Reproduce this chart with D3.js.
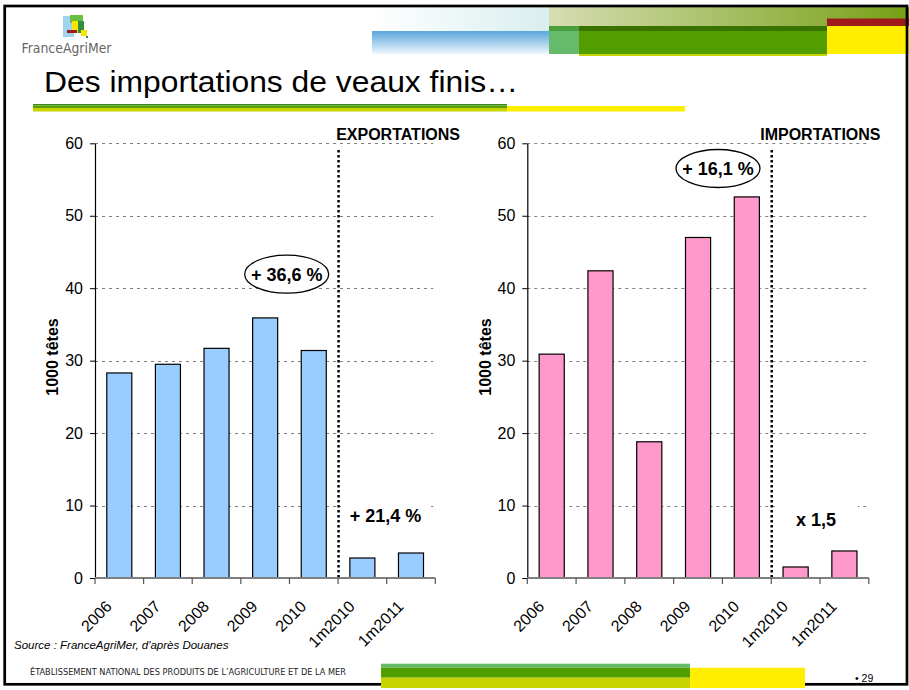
<!DOCTYPE html>
<html>
<head>
<meta charset="utf-8">
<script src="https://cdn.jsdelivr.net/npm/d3@7"></script>
<style>
  html, body { margin: 0; padding: 0; background: #fff; }
  svg { display: block; }
  text { font-family: Arial, "Liberation Sans", sans-serif; }
</style>
</head>
<body>
<svg id="chart" width="909" height="690"></svg>
<script>
// ---------- DATA ----------
const categories = ["2006", "2007", "2008", "2009", "2010", "1m2010", "1m2011"];
const exportValues = [28.3, 29.5, 31.7, 35.9, 31.4, 2.76, 3.45];
const importValues = [30.9, 42.4, 18.8, 47.0, 52.6, 1.52, 3.73];
const yTicks = [0, 10, 20, 30, 40, 50, 60];
const panelTitles = ["EXPORTATIONS", "IMPORTATIONS"];
const ellipseLabels = ["+ 36,6 %", "+ 16,1 %"];
const partialLabels = ["+ 21,4 %", "x 1,5"];
const yAxisTitle = "1000 têtes";
const slideTitle = "Des importations de veaux finis…";
const sourceText = "Source : FranceAgriMer, d'après Douanes";
const footerText = "ÉTABLISSEMENT NATIONAL DES PRODUITS DE L’AGRICULTURE ET DE LA MER";
const pageNumber = "• 29";

const svg = d3.select("#chart");
const defs = svg.append("defs");

// ---------- HEADER DECORATION ----------
const gFaint = defs.append("linearGradient").attr("id", "faint").attr("x1", 0).attr("x2", 1).attr("y1", 0).attr("y2", 0);
gFaint.append("stop").attr("offset", 0).attr("stop-color", "#ffffff");
gFaint.append("stop").attr("offset", 1).attr("stop-color", "#d9eeee");
const gBlue = defs.append("linearGradient").attr("id", "blue").attr("x1", 0).attr("x2", 0).attr("y1", 0).attr("y2", 1);
gBlue.append("stop").attr("offset", 0).attr("stop-color", "#5aa6dc");
gBlue.append("stop").attr("offset", 1).attr("stop-color", "#eef7fc");
const gOlive = defs.append("linearGradient").attr("id", "olive").attr("x1", 0).attr("x2", 1).attr("y1", 0).attr("y2", 0);
gOlive.append("stop").attr("offset", 0).attr("stop-color", "#d7ddb2");
gOlive.append("stop").attr("offset", 1).attr("stop-color", "#76a016");

const hdr = svg.append("g");
hdr.append("rect").attr("x", 372).attr("y", 7).attr("width", 177).attr("height", 24).attr("fill", "url(#faint)");
hdr.append("rect").attr("x", 372).attr("y", 31).attr("width", 177).attr("height", 23).attr("fill", "url(#blue)");
hdr.append("rect").attr("x", 549).attr("y", 7).attr("width", 360).attr("height", 19).attr("fill", "url(#olive)");
hdr.append("rect").attr("x", 827).attr("y", 18.5).attr("width", 82).attr("height", 7.5).attr("fill", "#9e1a1a");
hdr.append("rect").attr("x", 549).attr("y", 26).attr("width", 30).attr("height", 28).attr("fill", "#66bb6a");
hdr.append("rect").attr("x", 549).attr("y", 26).attr("width", 30).attr("height", 5).attr("fill", "#4a9e3e");
hdr.append("rect").attr("x", 579).attr("y", 26).attr("width", 248).attr("height", 5).attr("fill", "#3a7200");
hdr.append("rect").attr("x", 579).attr("y", 31).attr("width", 248).attr("height", 23).attr("fill", "#529e00");
hdr.append("rect").attr("x", 579).attr("y", 54).attr("width", 248).attr("height", 2).attr("fill", "#c8d400");
hdr.append("rect").attr("x", 827).attr("y", 26).attr("width", 82).attr("height", 28).attr("fill", "#ffee00");

// logo
const logo = svg.append("g");
logo.append("rect").attr("x", 63).attr("y", 16).attr("width", 11).attr("height", 21).attr("fill", "#9fd3ee");
logo.append("rect").attr("x", 70).attr("y", 15).attr("width", 13).attr("height", 8).attr("fill", "#6cbf3c");
logo.append("rect").attr("x", 77).attr("y", 21).attr("width", 7).attr("height", 12).attr("fill", "#2f8f3a");
logo.append("rect").attr("x", 72).attr("y", 21).attr("width", 6).attr("height", 12).attr("fill", "#ffe600");
logo.append("rect").attr("x", 67).attr("y", 30).attr("width", 10).attr("height", 3).attr("fill", "#9a1c1c");
logo.append("rect").attr("x", 81).attr("y", 30).attr("width", 6).attr("height", 6).attr("fill", "#f3e600");
logo.append("rect").attr("x", 86).attr("y", 36).attr("width", 2).attr("height", 2).attr("fill", "#2f8f3a");
logo.append("text").attr("x", 21.5).attr("y", 53).attr("font-size", 14.5)
  .attr("fill", "#666").attr("textLength", 90).attr("lengthAdjust", "spacingAndGlyphs")
  .style("font-family", "'Liberation Sans Narrow', 'DejaVu Sans Condensed', Arial, sans-serif")
  .text("FranceAgriMer");

// title
svg.append("text").attr("x", 44).attr("y", 92).attr("font-size", 30).attr("fill", "#000")
  .attr("textLength", 474).attr("lengthAdjust", "spacingAndGlyphs")
  .text(slideTitle);
svg.append("rect").attr("x", 33).attr("y", 104).attr("width", 474).attr("height", 1.5).attr("fill", "#3a8a1e");
svg.append("rect").attr("x", 33).attr("y", 105.5).attr("width", 474).attr("height", 2.5).attr("fill", "#5aa000");
svg.append("rect").attr("x", 33).attr("y", 108).attr("width", 474).attr("height", 3.5).attr("fill", "#c8d400");
svg.append("rect").attr("x", 507).attr("y", 106).attr("width", 178).attr("height", 5.5).attr("fill", "#ffee00");

// ---------- CHART PANELS ----------
const yTop = 143.3, yBottom = 578;
const y = d3.scaleLinear().domain([0, 60]).range([yBottom, yTop]);

const panels = [
  { x0: 95, x1: 435.3, values: exportValues, fill: "#99ccff", title: panelTitles[0], titleEnd: 460,
    ell: { cx: 286.7, cy: 274.2, label: ellipseLabels[0] },
    part: { cx: 385.5, base: 522.3, label: partialLabels[0], boxX: 341, boxW: 87 },
    yTitleX: 57.5 },
  { x0: 527.3, x1: 868.8, values: importValues, fill: "#ff99cc", title: panelTitles[1], titleEnd: 880.5,
    ell: { cx: 718, cy: 168.5, label: ellipseLabels[1] },
    part: { cx: 816, base: 525.7, label: partialLabels[1], boxX: 775, boxW: 83 },
    yTitleX: 491 }
];

panels.forEach(p => {
  const g = svg.append("g");
  const x = d3.scaleBand().domain(categories).range([p.x0, p.x1]).padding(0);
  const step = x.step();
  const barW = step * 0.515;

  // grid
  g.selectAll(".grid").data(yTicks.filter(t => t > 0)).enter().append("line")
    .attr("x1", p.x0).attr("x2", p.x1 - 2)
    .attr("y1", d => Math.round(y(d)) + 0.5).attr("y2", d => Math.round(y(d)) + 0.5)
    .attr("stroke", "#808080").attr("stroke-width", 1).attr("stroke-dasharray", "3,4");

  // panel title with white background
  const tt = g.append("text").attr("x", p.titleEnd).attr("y", 140).attr("text-anchor", "end")
    .attr("font-size", 16).attr("font-weight", "bold").text(p.title);
  const bb = tt.node().getBBox();
  g.insert("rect", "text").attr("x", bb.x - 2).attr("y", bb.y).attr("width", bb.width + 4).attr("height", bb.height)
    .attr("fill", "#fff");

  // partial-year annotation background (under separator)
  g.append("rect").attr("x", p.part.boxX).attr("y", p.part.base - 22).attr("width", p.part.boxW).attr("height", 30)
    .attr("fill", "#fff");

  // bars
  g.selectAll(".bar").data(p.values).enter().append("rect")
    .attr("x", (d, i) => x(categories[i]) + (step - barW) / 2)
    .attr("y", d => y(d))
    .attr("width", barW)
    .attr("height", d => yBottom - y(d))
    .attr("fill", p.fill).attr("stroke", "#000").attr("stroke-width", 1.2);

  // dotted separator
  const sepX = x(categories[5]) + 0.5;
  g.append("line").attr("x1", sepX).attr("x2", sepX).attr("y1", 150).attr("y2", yBottom)
    .attr("stroke", "#000").attr("stroke-width", 2.5).attr("stroke-dasharray", "2.5,2.5");

  // y axis
  const ya = g.append("g").attr("transform", `translate(${p.x0},0)`)
    .call(d3.axisLeft(y).tickValues(yTicks).tickSize(5).tickSizeOuter(0).tickPadding(7));
  ya.select(".domain").attr("stroke", "#000").attr("stroke-width", 1.2);
  ya.selectAll(".tick line").attr("stroke", "#000");
  ya.selectAll(".tick text").attr("font-size", 16).attr("fill", "#000")
    .style("font-family", "Arial, 'Liberation Sans', sans-serif");

  // x axis
  g.append("line").attr("x1", p.x0).attr("x2", p.x1).attr("y1", yBottom).attr("y2", yBottom)
    .attr("stroke", "#7f7f7f").attr("stroke-width", 2);
  const bounds = categories.map(c => x(c)).concat([p.x1]);
  g.selectAll(".xt").data(bounds).enter().append("line")
    .attr("x1", d => d).attr("x2", d => d).attr("y1", yBottom).attr("y2", yBottom + 6)
    .attr("stroke", "#555").attr("stroke-width", 1.2);
  g.selectAll(".xl").data(categories).enter().append("text")
    .attr("transform", d => `translate(${x(d) + step / 2 - 6.5},${yBottom + 29.5}) rotate(-45)`)
    .attr("text-anchor", "end").attr("font-size", 16).attr("fill", "#000")
    .text(d => d);

  // y title
  g.append("text").attr("transform", `translate(${p.yTitleX},357) rotate(-90)`)
    .attr("text-anchor", "middle").attr("font-size", 16).attr("font-weight", "bold")
    .text(yAxisTitle);

  // ellipse annotation
  g.append("ellipse").attr("cx", p.ell.cx).attr("cy", p.ell.cy).attr("rx", 42).attr("ry", 19)
    .attr("fill", "#fff").attr("stroke", "#000").attr("stroke-width", 1.3);
  g.append("text").attr("x", p.ell.cx).attr("y", p.ell.cy + 6.5).attr("text-anchor", "middle")
    .attr("font-size", 18).attr("font-weight", "bold").text(p.ell.label);

  g.append("text").attr("x", p.part.cx).attr("y", p.part.base).attr("text-anchor", "middle")
    .attr("font-size", 18).attr("font-weight", "bold").text(p.part.label);
});

// ---------- FOOTER ----------
svg.append("text").attr("x", 14).attr("y", 649).attr("font-size", 11.5).attr("font-style", "italic")
  .text(sourceText);
svg.append("text").attr("x", 30).attr("y", 675).attr("font-size", 8.5).attr("fill", "#222")
  .attr("textLength", 316).attr("lengthAdjust", "spacingAndGlyphs")
  .style("font-family", "'Liberation Sans Narrow', 'DejaVu Sans Condensed', Arial, sans-serif")
  .text(footerText);
svg.append("text").attr("x", 855).attr("y", 682).attr("font-size", 10.5).text(pageNumber);

// frame
svg.append("rect").attr("x", 4.7).attr("y", 6).attr("width", 902.3).attr("height", 678.3)
  .attr("fill", "none").attr("stroke", "#000").attr("stroke-width", 2.7);

// footer bars (over frame)
svg.append("rect").attr("x", 381).attr("y", 663.7).attr("width", 309).attr("height", 4).attr("fill", "#66bb66");
svg.append("rect").attr("x", 381).attr("y", 667.7).attr("width", 309).attr("height", 10).attr("fill", "#529e00");
svg.append("rect").attr("x", 381).attr("y", 677.7).attr("width", 309).attr("height", 10.3).attr("fill", "#c8d400");
svg.append("rect").attr("x", 690).attr("y", 667.7).attr("width", 115).attr("height", 20.3).attr("fill", "#ffee00");
</script>
</body>
</html>
